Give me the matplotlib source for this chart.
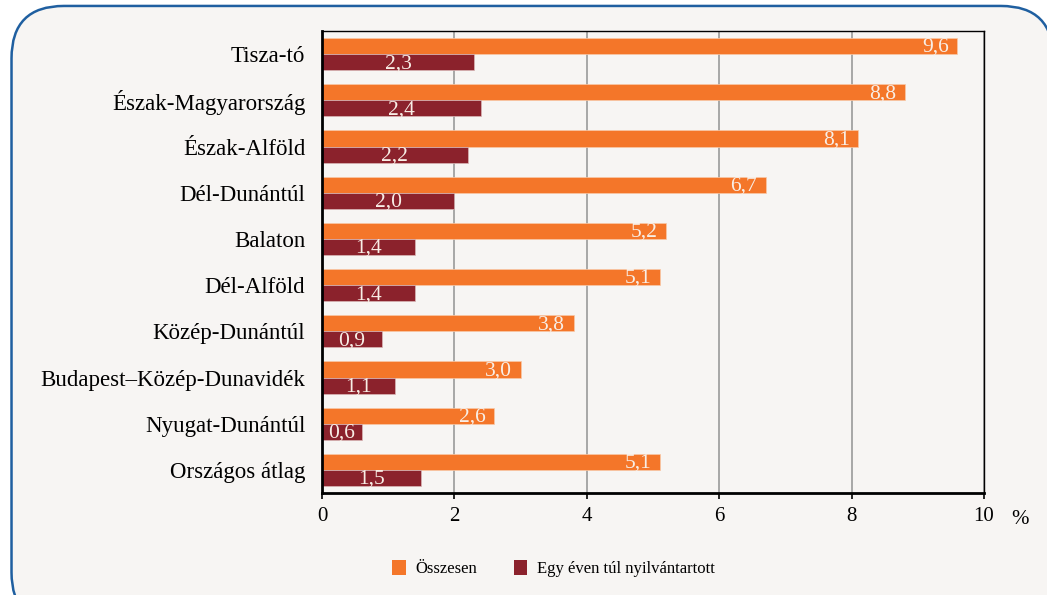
import matplotlib.pyplot as plt
from matplotlib.patches import FancyBboxPatch, Patch
import numpy as np

# data
regions = ["Tisza-tó", "Észak-Magyarország", "Észak-Alföld", "Dél-Dunántúl",
           "Balaton", "Dél-Alföld", "Közép-Dunántúl",
           "Budapest–Közép-Dunavidék", "Nyugat-Dunántúl", "Országos átlag"]
osszesen = [9.6, 8.8, 8.1, 6.7, 5.2, 5.1, 3.8, 3.0, 2.6, 5.1]
egy_even_tul = [2.3, 2.4, 2.2, 2.0, 1.4, 1.4, 0.9, 1.1, 0.6, 1.5]
series_names = ["Összesen", "Egy éven túl nyilvántartott"]

orange = "#f47629"
darkred = "#8b222c"
bg = "#f7f5f3"
label_col = "#f8eee6"

plt.rcParams["font.family"] = ["Liberation Serif", "DejaVu Serif"]

fig = plt.figure(figsize=(10.47, 5.95), dpi=100)
fig.patch.set_facecolor("white")

# rounded frame around the whole chart
frame = FancyBboxPatch((0.011, -0.05), 0.995, 1.04,
                       boxstyle="round,pad=0,rounding_size=0.05",
                       transform=fig.transFigure, facecolor=bg,
                       edgecolor="#1f5fa0", linewidth=1.8, mutation_aspect=1.76,
                       zorder=-10)
fig.add_artist(frame)

ax = fig.add_axes([0.3075, 0.1714, 0.6323, 0.7765])
ax.set_facecolor(bg)

y = np.arange(len(regions))
h = 0.35
b1 = ax.barh(y - h / 2, osszesen, height=h, color=orange, edgecolor="#f8c9a8", linewidth=0.5)
b2 = ax.barh(y + h / 2, egy_even_tul, height=h, color=darkred, edgecolor="#d9b7b7", linewidth=0.5)

# value labels (comma as decimal separator)
for rect, v in zip(b1, osszesen):
    ax.text(v - 0.13, rect.get_y() + rect.get_height() / 2 + 0.03, f"{v:.1f}".replace(".", ","),
            ha="right", va="center", color=label_col, fontsize=15.5)
for rect, v in zip(b2, egy_even_tul):
    ax.text(v / 2, rect.get_y() + rect.get_height() / 2 + 0.03, f"{v:.1f}".replace(".", ","),
            ha="center", va="center", color=label_col, fontsize=15.5)

ax.set_ylim(len(regions) - 0.5, -0.5)
ax.set_xlim(0, 10)
ax.set_yticks(y)
ax.set_yticklabels(regions, fontsize=16.5)
ax.tick_params(axis="y", length=0, pad=12)
ax.set_xticks([0, 2, 4, 6, 8, 10])
ax.set_xticklabels(["0", "2", "4", "6", "8", "10"], fontsize=15)
ax.tick_params(axis="x", length=4, width=1.2, direction="out", pad=6)
ax.grid(axis="x", color="#9a9a9a", linewidth=1.2)
ax.set_axisbelow(True)
for side in ["top", "right"]:
    ax.spines[side].set_linewidth(1.0)
for side in ["left", "bottom"]:
    ax.spines[side].set_linewidth(2.0)
ax.text(1.055, -0.058, "%", transform=ax.transAxes, fontsize=15, ha="center", va="center")

handles = [Patch(facecolor=orange), Patch(facecolor=darkred)]
fig.legend(handles, series_names, loc="center", bbox_to_anchor=(0.529, 0.045), ncol=2,
           frameon=False, fontsize=12, handlelength=0.8, handleheight=1.0,
           handletextpad=0.6, columnspacing=2.2)

fig.savefig("out.png", dpi=100, facecolor=fig.get_facecolor())
